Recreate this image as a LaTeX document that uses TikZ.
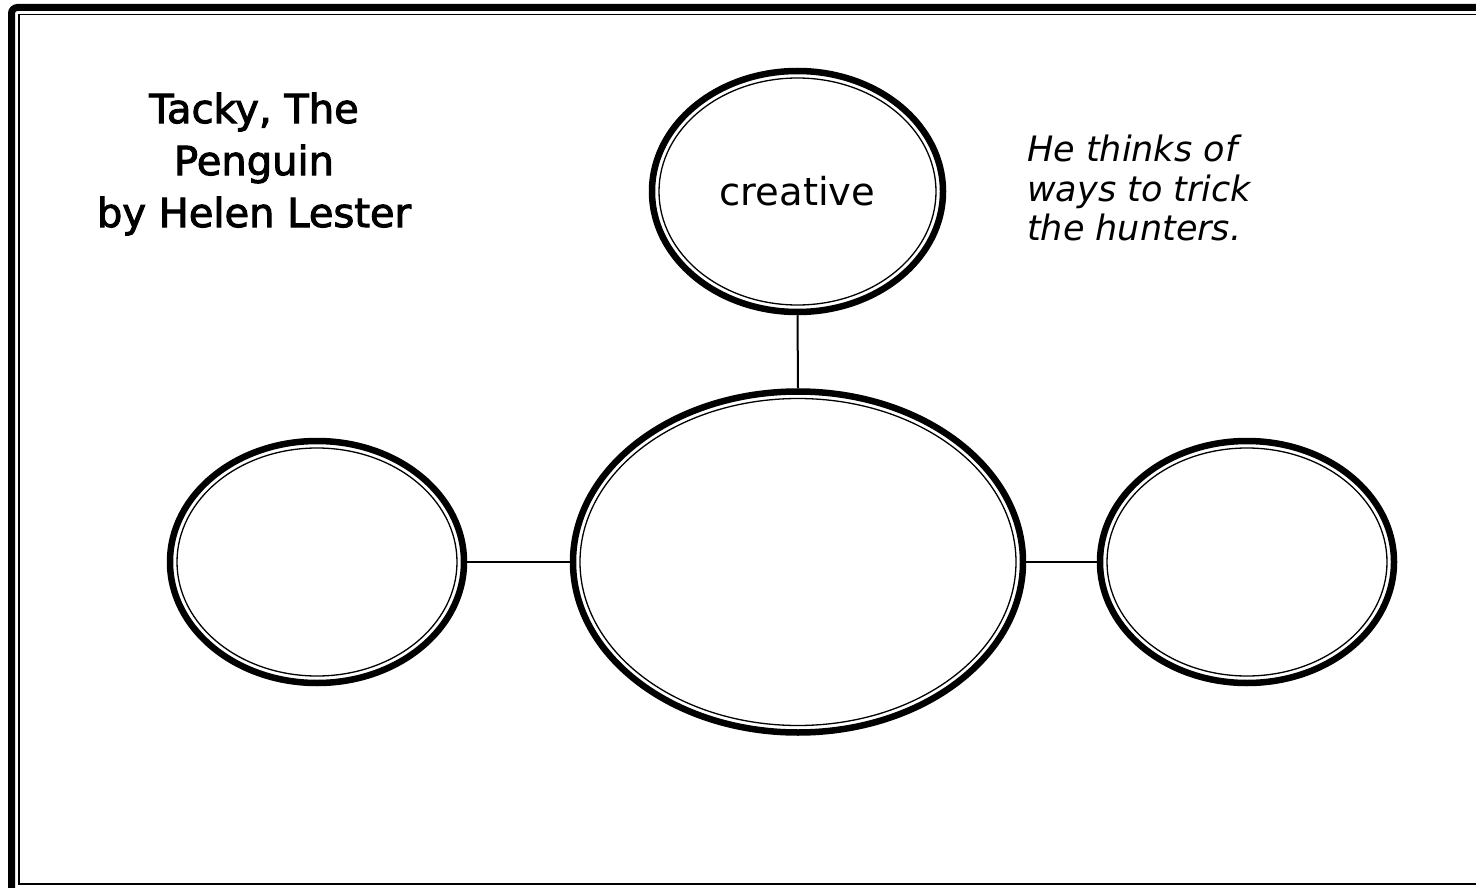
\documentclass[tikz,border=0pt]{standalone}
\usepackage{fontspec}
\setmainfont{DejaVu Sans}
\newfontfamily\titlefont{DejaVu Sans}[FakeBold=2.5]
\usepackage{tikz}
\usetikzlibrary{shapes.geometric, positioning}

\begin{document}
\begin{tikzpicture}[x=1pt, y=-1pt,
    bubble/.style={draw, ellipse, line width=6.5pt, inner sep=0pt},
    ring/.style={line width=1.3pt},
    link/.style={line width=2pt}]
  \useasboundingbox (0,0) rectangle (1476,888);
  \clip (0,0) rectangle (1476,888);
  % page frame, runs off the right and bottom edge
  \draw[line width=7pt, rounded corners=6pt] (11.5,7.5) rectangle (1500,905);
  \draw[line width=1.6pt] (19,14.5) rectangle (1490,884);

  \node[font=\titlefont\fontsize{40}{52}\selectfont, align=center] (title) at (254,164)
    {Tacky, The\\Penguin\\by Helen Lester};

  \node[bubble, minimum width=291, minimum height=241,
    font=\fontsize{38.5}{44}\selectfont] (trait) at (797.5,191.5) {creative};
  \node[bubble, minimum width=450, minimum height=341] (hub) at (798,562) {};
  \node[bubble, minimum width=294, minimum height=242] (left) at (317,562) {};
  \node[bubble, minimum width=294, minimum height=242] (right) at (1247,562) {};

  \node[font=\itshape\fontsize{35}{39.5}\selectfont, align=left, anchor=north west,
    inner sep=0pt] (note) at (1027,135)
    {He thinks of\\ways to trick\\the hunters.};

  % thin inner line of each bubble
  \foreach \n/\rx/\ry in {trait/145.5/120.5, hub/225/170.5, left/147/121, right/147/121}
    \draw[ring] (\n.center) ellipse [x radius=\rx-7, y radius=\ry-7];

  \draw[link] (trait.south) -- (hub.north);
  \draw[link] (left.east) -- (hub.west);
  \draw[link] (hub.east) -- (right.west);
\end{tikzpicture}
\end{document}
